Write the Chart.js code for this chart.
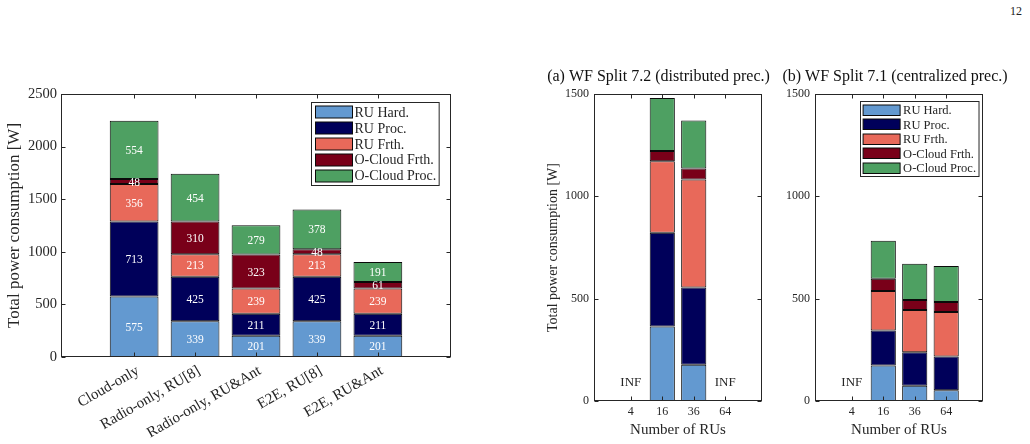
<!DOCTYPE html>
<html>
<head>
<meta charset="utf-8">
<script src="https://cdn.jsdelivr.net/npm/chart.js@4.4.1/dist/chart.umd.min.js"></script>
<style>
  body { margin: 0; background: #fff; width: 1030px; height: 444px; position: relative; overflow: hidden; }
  canvas { position: absolute; }
  #page { position: absolute; left: 1010px; top: 4px; font: 12px "Liberation Serif", serif; color: #222; }
</style>
</head>
<body>
<div id="page">12</div>
<canvas id="c1" width="470" height="364" style="left:0;top:80px"></canvas>
<canvas id="c2" width="243" height="384" style="left:537px;top:60px"></canvas>
<canvas id="c3" width="230" height="384" style="left:780px;top:60px"></canvas>
<script>
// series shared by all three panels
const series = ["RU Hard.", "RU Proc.", "RU Frth.", "O-Cloud Frth.", "O-Cloud Proc."];
const seriesColors = ["#6399d0", "#00005a", "#e8695a", "#790019", "#4ea062"];

// left panel: scenarios
const scenarios = ["Cloud-only", "Radio-only, RU[8]", "Radio-only, RU&Ant", "E2E, RU[8]", "E2E, RU&Ant"];
const ruHard = [575, 339, 201, 339, 201];
const ruProc = [713, 425, 211, 425, 211];
const ruFrth = [356, 213, 239, 213, 239];
const ocFrth = [48, 310, 323, 48, 61];
const ocProc = [554, 454, 279, 378, 191];

// (a) and (b): number of RUs, null = infeasible (INF)
const numRUs = ["4", "16", "36", "64"];
const aRuHard = [null, 364, 177, null];
const aRuProc = [null, 458, 378, null];
const aRuFrth = [null, 350, 527, null];
const aOcFrth = [null, 49, 54, null];
const aOcProc = [null, 259, 235, null];

const bRuHard = [null, 174, 74, 53];
const bRuProc = [null, 170, 164, 165];
const bRuFrth = [null, 194, 207, 217];
const bOcFrth = [null, 59, 49, 49];
const bOcProc = [null, 186, 176, 175];

const INK = "#262626";
const SERIF = "'Liberation Serif', 'DejaVu Serif', serif";
const NO_GRID = { display: false, drawTicks: false };

function makeDatasets(cols) {
  return cols.map((vals, k) => ({
    label: series[k],
    data: vals.map((v, i) => ({ x: i + 1, y: v })),
    backgroundColor: seriesColors[k],
    borderColor: "#0a0a0a",
    borderWidth: 1,
    borderSkipped: false,
    categoryPercentage: 0.8,
    barPercentage: 1
  }));
}

// matlab-ish box, inward ticks, value labels, INF marks and boxed legend
const matlabPlugin = {
  id: "matlab",
  afterDatasetsDraw(chart, args, opts) {
    const { ctx, chartArea: a } = chart;
    const xs = chart.scales.x, ys = chart.scales.y;
    ctx.save();

    if (opts.values) {
      ctx.fillStyle = "#fff";
      ctx.font = opts.valueFont;
      ctx.textAlign = "center";
      ctx.textBaseline = "middle";
      chart.data.datasets.forEach((ds, k) => {
        chart.getDatasetMeta(k).data.forEach((bar, i) => {
          const v = ds.data[i].y;
          if (v == null) return;
          ctx.fillText(String(v), bar.x, (bar.y + bar.base) / 2 + 1);
        });
      });
    }

    if (opts.inf) {
      ctx.fillStyle = INK;
      ctx.font = opts.infFont;
      ctx.textAlign = "center";
      ctx.textBaseline = "middle";
      opts.cats.forEach((c, i) => {
        const empty = chart.data.datasets.every(ds => ds.data[i].y == null);
        if (empty) ctx.fillText("INF", xs.getPixelForValue(i + 1), ys.getPixelForValue(0) - 18);
      });
    }

    // frame
    ctx.strokeStyle = INK;
    ctx.lineWidth = 1;
    const L = Math.round(a.left) + 0.5, R = Math.round(a.right) - 0.5;
    const T = Math.round(a.top) + 0.5, B = Math.round(a.bottom) - 0.5;
    ctx.strokeRect(L, T, R - L, B - T);
    const tl = 4;
    ctx.beginPath();
    ys.ticks.forEach(t => {
      const y = Math.round(ys.getPixelForValue(t.value)) + 0.5;
      ctx.moveTo(L, y); ctx.lineTo(L + tl, y);
      ctx.moveTo(R, y); ctx.lineTo(R - tl, y);
    });
    xs.ticks.forEach(t => {
      const x = Math.round(xs.getPixelForValue(t.value)) + 0.5;
      ctx.moveTo(x, B); ctx.lineTo(x, B - tl);
      ctx.moveTo(x, T); ctx.lineTo(x, T + tl);
    });
    ctx.stroke();

    if (opts.legend) {
      const lg = opts.legend;
      ctx.font = lg.font;
      const tw = Math.max(...series.map(s => ctx.measureText(s).width));
      const w = lg.pad + lg.swW + lg.gap + tw + lg.padR;
      const h = lg.rowH * series.length + lg.padV * 2;
      const x0 = Math.round(a.right - lg.right - w) + 0.5;
      const y0 = Math.round(a.top + lg.top) + 0.5;
      ctx.fillStyle = "#fff";
      ctx.fillRect(x0, y0, w, h);
      ctx.strokeStyle = INK;
      ctx.strokeRect(x0, y0, w, h);
      ctx.textAlign = "left";
      ctx.textBaseline = "middle";
      series.forEach((s, k) => {
        const cy = y0 + lg.padV + lg.rowH * (k + 0.5);
        ctx.fillStyle = seriesColors[k];
        ctx.fillRect(x0 + lg.pad, Math.round(cy - lg.swH / 2), lg.swW, lg.swH);
        ctx.strokeStyle = "#0a0a0a";
        ctx.strokeRect(x0 + lg.pad, Math.round(cy - lg.swH / 2), lg.swW, lg.swH);
        ctx.fillStyle = INK;
        ctx.fillText(s, x0 + lg.pad + lg.swW + lg.gap, cy + 1);
      });
    }
    ctx.restore();
  }
};

function fixedWidth(w) { return scale => { scale.width = w; }; }
function fixedHeight(h) { return scale => { scale.height = h; }; }

// left panel
new Chart(document.getElementById("c1"), {
  type: "bar",
  data: { datasets: makeDatasets([ruHard, ruProc, ruFrth, ocFrth, ocProc]) },
  options: {
    responsive: false,
    animation: false,
    layout: { padding: { top: 14, right: 19, left: 0, bottom: 0 } },
    plugins: {
      legend: { display: false },
      tooltip: { enabled: false },
      matlab: {
        values: true,
        valueFont: "11.5px " + SERIF,
        legend: { font: "14px " + SERIF, right: 12, top: 8, pad: 4, padR: 3, padV: 2, gap: 2, swW: 37, swH: 12, rowH: 15.8 }
      }
    },
    scales: {
      x: {
        type: "linear", stacked: true, offset: false, min: -0.2, max: 6.2,
        grid: NO_GRID, border: { display: false },
        afterBuildTicks: s => { s.ticks = scenarios.map((c, i) => ({ value: i + 1 })); },
        afterFit: fixedHeight(87),
        ticks: {
          callback: (v, i) => scenarios[i],
          minRotation: 30, maxRotation: 30, padding: 5, labelOffset: 4,
          color: INK, font: { family: SERIF, size: 15 }
        }
      },
      y: {
        stacked: true, min: 0, max: 2500,
        grid: NO_GRID, border: { display: false },
        afterFit: fixedWidth(61),
        ticks: { stepSize: 500, padding: 4, callback: v => String(v), color: INK, font: { family: SERIF, size: 14.5 } },
        title: { display: true, text: "Total power consumption [W]", color: INK, padding: { top: 4, bottom: 0 }, font: { family: SERIF, size: 17 } }
      }
    }
  },
  plugins: [matlabPlugin]
});

function rusChart(id, title, cols, yWidth, rightWidth, showYTitle, legend) {
  return new Chart(document.getElementById(id), {
    type: "bar",
    data: { datasets: makeDatasets(cols) },
    options: {
      responsive: false,
      animation: false,
      layout: { padding: 0 },
      plugins: {
        legend: { display: false },
        tooltip: { enabled: false },
        title: { display: true, text: title, color: "#111", padding: { top: 7.4, bottom: 7.4 }, font: { family: SERIF, size: 16, weight: "normal" } },
        matlab: { inf: true, infFont: "13px " + SERIF, cats: numRUs, legend: legend }
      },
      scales: {
        x: {
          type: "linear", stacked: true, offset: false, min: -0.17, max: 5.17,
          grid: NO_GRID, border: { display: false },
          afterBuildTicks: s => { s.ticks = numRUs.map((c, i) => ({ value: i + 1 })); },
          afterFit: fixedHeight(43),
          ticks: { callback: (v, i) => numRUs[i], maxRotation: 0, padding: 3.5, color: INK, font: { family: SERIF, size: 12 } },
          title: { display: true, text: "Number of RUs", color: INK, padding: { top: 0, bottom: 5 }, font: { family: SERIF, size: 15 } }
        },
        y: {
          stacked: true, min: 0, max: 1500,
          grid: NO_GRID, border: { display: false },
          afterFit: fixedWidth(yWidth),
          ticks: { stepSize: 500, padding: 5, callback: v => String(v), color: INK, font: { family: SERIF, size: 12 } },
          title: { display: showYTitle, text: "Total power consumption [W]", color: INK, padding: { top: 7.6, bottom: 0 }, font: { family: SERIF, size: 14 } }
        },
        yRight: {
          position: "right", display: true,
          grid: NO_GRID, border: { display: false },
          ticks: { display: false },
          afterFit: fixedWidth(rightWidth)
        }
      }
    },
    plugins: [matlabPlugin]
  });
}

rusChart("c2", "(a) WF Split 7.2 (distributed prec.)",
  [aRuHard, aRuProc, aRuFrth, aOcFrth, aOcProc], 57, 18, true, null);
rusChart("c3", "(b) WF Split 7.1 (centralized prec.)",
  [bRuHard, bRuProc, bRuFrth, bOcFrth, bOcProc], 35, 27, false,
  { font: "12.5px " + SERIF, right: 4, top: 7, pad: 2.6, padR: 3, padV: 1.5, gap: 3, swW: 37, swH: 10.5, rowH: 14.4 });
</script>
</body>
</html>
